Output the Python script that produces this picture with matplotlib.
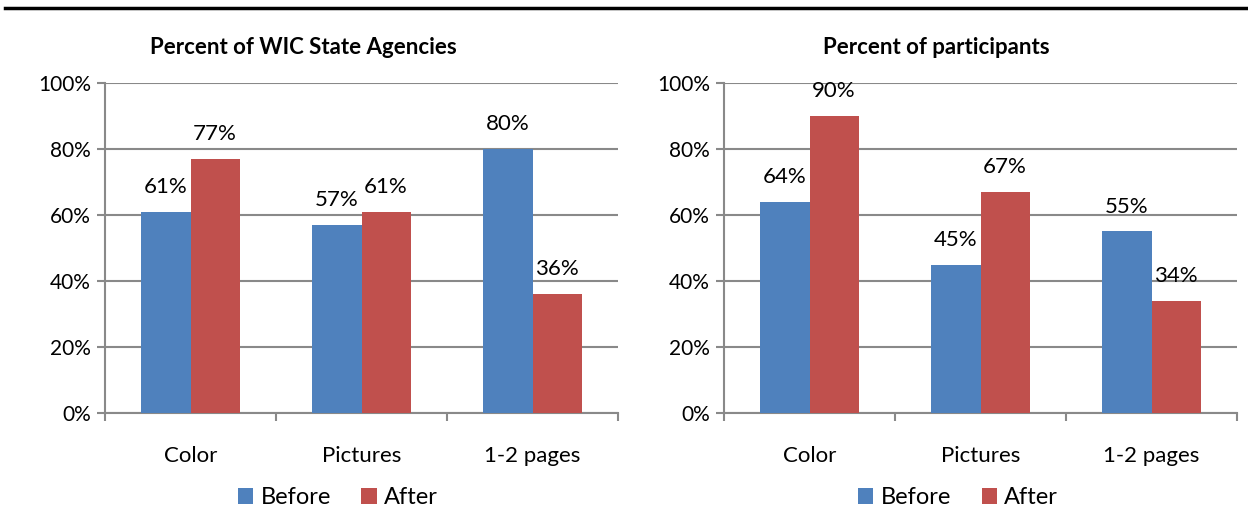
import matplotlib.pyplot as plt
import numpy as np

plt.rcParams['font.family'] = ['Lato', 'DejaVu Sans']

categories = ['Color', 'Pictures', '1-2 pages']
series_names = ['Before', 'After']
colors = ['#4f81bd', '#c0504d']

agencies_before = [61, 57, 80]
agencies_after = [77, 61, 36]
participants_before = [64, 45, 55]
participants_after = [90, 67, 34]

titles = ['Percent of WIC State Agencies', 'Percent of participants']
panels = [(agencies_before, agencies_after), (participants_before, participants_after)]

fig = plt.figure(figsize=(12.48, 5.16), dpi=100)

# rule across the top of the page
fig.add_artist(plt.Line2D([0.004, 1.0], [0.984, 0.984], color='black', lw=2.5))

axes_rects = [[105 / 1248, 103 / 516, 513 / 1248, 330 / 516],
              [724 / 1248, 103 / 516, 513 / 1248, 330 / 516]]
# titles and legends sit centred on the whole chart box, not the plot area
title_x = [0.386, 0.413]
legend_x = [0.454, 0.456]

grid_c = '#898989'
x = np.arange(len(categories))
w = 0.287

for rect, title, (before, after), tx, lx in zip(axes_rects, titles, panels, title_x, legend_x):
    ax = fig.add_axes(rect)
    for i, (vals, name, c) in enumerate(zip((before, after), series_names, colors)):
        bars = ax.bar(x + (i - 0.5) * w, vals, w, color=c, label=name, zorder=3)
        for b, v in zip(bars, vals):
            ax.text(b.get_x() + b.get_width() / 2, v + 7.5, f'{v}%',
                    ha='center', va='center', fontsize=16, zorder=4)
    ax.set_ylim(0, 100)
    ax.set_xlim(-0.5, 2.5)
    ax.set_yticks(range(0, 101, 20))
    ax.set_yticklabels([f'{t}%' for t in range(0, 101, 20)], fontsize=15)
    ax.yaxis.grid(True, color=grid_c, lw=1.5, zorder=0)
    ax.set_xticks([-0.5, 0.5, 1.5, 2.5])
    ax.set_xticklabels([])
    ax.set_xticks(x, minor=True)
    ax.set_xticklabels(categories, minor=True, fontsize=16)
    ax.tick_params(axis='x', which='minor', length=0, pad=24)
    ax.tick_params(axis='x', which='major', length=6, color=grid_c, width=1.5)
    ax.tick_params(axis='y', length=6, color=grid_c, width=1.5, pad=4)
    for s in ['top', 'right']:
        ax.spines[s].set_visible(False)
    ax.spines['left'].set_color(grid_c)
    ax.spines['bottom'].set_color(grid_c)
    ax.spines['left'].set_linewidth(1.5)
    ax.spines['bottom'].set_linewidth(1.5)
    ax.set_title(title, fontsize=16, fontweight='bold', pad=21, x=tx)
    ax.legend(loc='upper center', bbox_to_anchor=(lx, -0.16), ncol=2, frameon=False,
              fontsize=17, handlelength=0.65, handleheight=0.65, handletextpad=0.3,
              columnspacing=1.3)

fig.savefig('out.png', dpi=100)
